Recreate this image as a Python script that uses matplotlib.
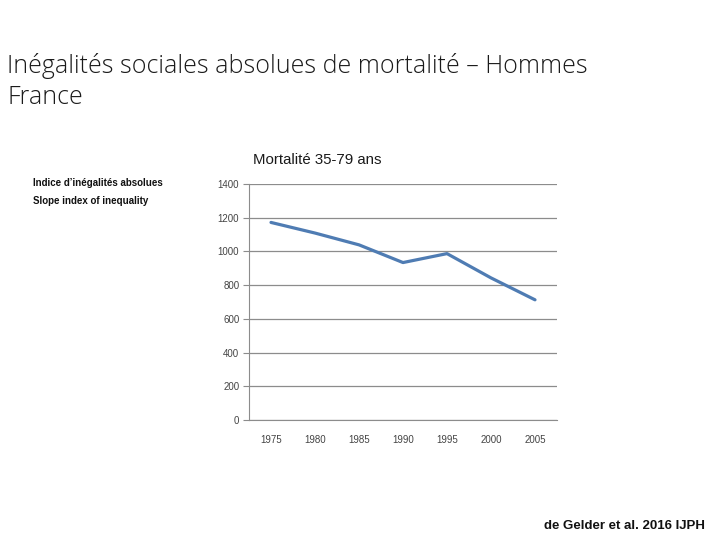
import matplotlib
matplotlib.use("Agg")
import matplotlib.pyplot as plt

years = ["1975", "1980", "1985", "1990", "1995", "2000", "2005"]
sii = [1172, 1109, 1039, 934, 987, 843, 713]
yticks = [0, 200, 400, 600, 800, 1000, 1200, 1400]

W, H = 720, 540
fig = plt.figure(figsize=(7.2, 5.4), dpi=100)
fam = ["Open Sans", "DejaVu Sans"]
narrow = ["Liberation Sans", "DejaVu Sans"]

fig.text(7 / W, 1 - 66 / H, "Inégalités sociales absolues de mortalité – Hommes",
         fontsize=18, family=fam, fontweight="light", color="#1a1a1a", va="center")
fig.text(7 / W, 1 - 98 / H, "France",
         fontsize=18, family=fam, fontweight="light", color="#1a1a1a", va="center")

ax = fig.add_axes([249 / W, 1 - 420 / H, (557 - 249) / W, (420 - 184) / H])
x = list(range(len(years)))
ax.plot(x, sii, color="#4f7cb3", linewidth=2.3, solid_capstyle="round")
ax.set_xlim(-0.5, len(years) - 0.5)
ax.set_ylim(0, 1400)
ax.set_yticks(yticks)
ax.set_yticklabels([str(v) for v in yticks], family=narrow, fontsize=7, color="#444444")
ax.set_xticks(x)
ax.set_xticklabels(years, family=narrow, fontsize=7, color="#444444")
ax.grid(axis="y", color="#8c8c8c", linewidth=0.9)
ax.set_axisbelow(True)
for s in ["top", "right"]:
    ax.spines[s].set_visible(False)
ax.spines["left"].set_color("#8c8c8c")
ax.spines["bottom"].set_color("#8c8c8c")
ax.tick_params(axis="y", length=4, color="#8c8c8c", pad=3)
ax.tick_params(axis="x", length=0, pad=11)

fig.text(317 / W, 1 - 160 / H, "Mortalité 35-79 ans", fontsize=10.8, family=narrow,
         color="#1a1a1a", ha="center", va="center")
fig.text(33 / W, 1 - 183 / H, "Indice d’inégalités absolues", fontsize=7,
         family=narrow, fontweight="bold", color="#111111", va="center")
fig.text(33 / W, 1 - 201 / H, "Slope index of inequality", fontsize=7,
         family=narrow, fontweight="bold", color="#111111", va="center")
fig.text(705 / W, 1 - 526 / H, "de Gelder et al. 2016 IJPH", fontsize=9.5,
         family=narrow, fontweight="bold", color="#111111", ha="right", va="center")

fig.savefig("out.png", dpi=100, facecolor="white")
